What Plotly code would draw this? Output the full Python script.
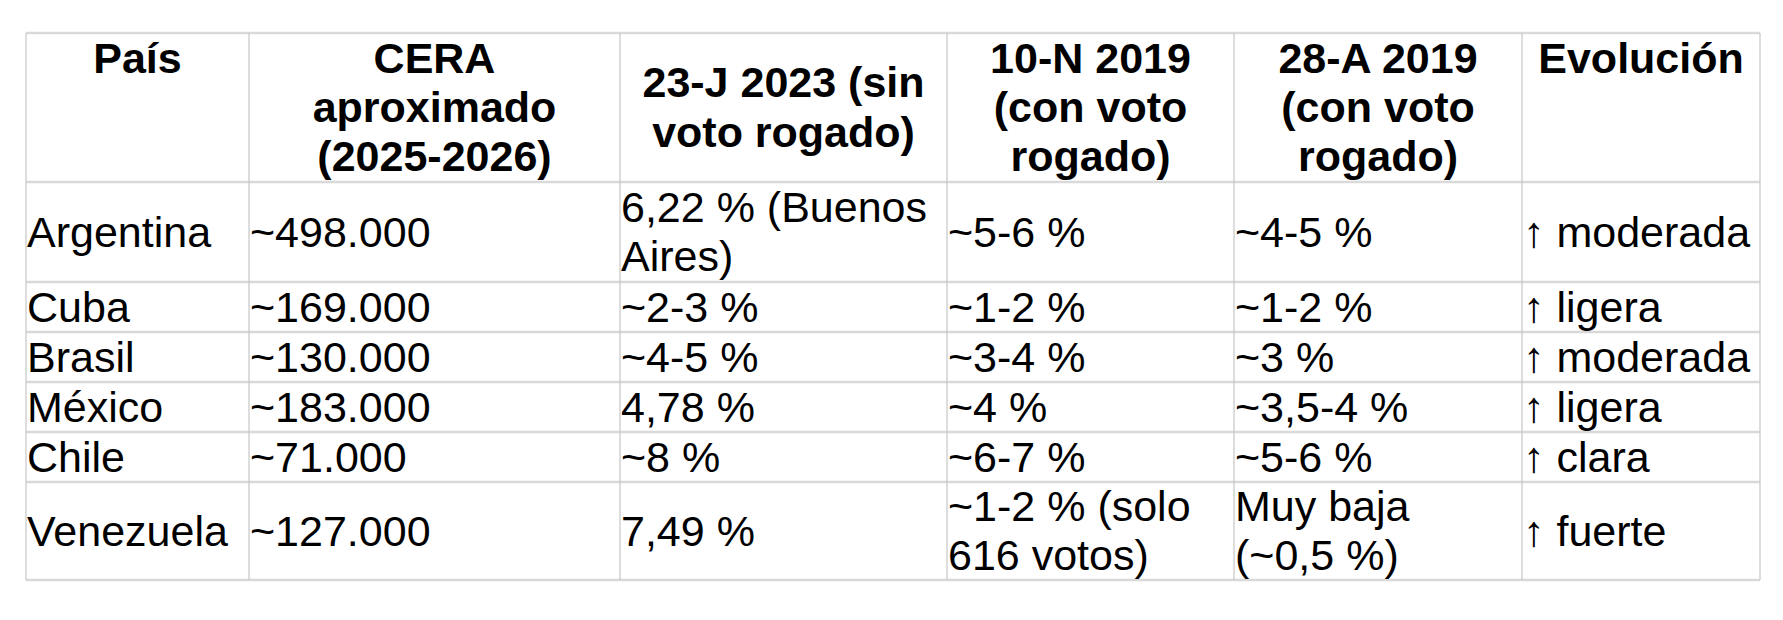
import plotly.graph_objects as go

#%% Table content
header = ["País",
          "CERA<br>aproximado<br>(2025-2026)",
          "23-J 2023 (sin<br>voto rogado)",
          "10-N 2019<br>(con voto<br>rogado)",
          "28-A 2019<br>(con voto<br>rogado)",
          "Evolución"]

paises = ["Argentina", "Cuba", "Brasil", "México", "Chile", "Venezuela"]
cera = ["~498.000", "~169.000", "~130.000", "~183.000", "~71.000", "~127.000"]
j23_2023 = ["6,22 % (Buenos<br>Aires)", "~2-3 %", "~4-5 %", "4,78 %", "~8 %", "7,49 %"]
n10_2019 = ["~5-6 %", "~1-2 %", "~3-4 %", "~4 %", "~6-7 %", "~1-2 % (solo<br>616 votos)"]
a28_2019 = ["~4-5 %", "~1-2 %", "~3 %", "~3,5-4 %", "~5-6 %", "Muy baja<br>(~0,5 %)"]
evolucion = ["↑ moderada", "↑ ligera", "↑ moderada", "↑ ligera", "↑ clara", "↑ fuerte"]

# header cells that sit at the top instead of the middle
header_top = ["País", "Evolución"]

#%% Grid geometry (pixels)
col_w = [223, 371, 327, 287, 288, 238]
row_h = [149, 100, 50, 50, 50, 50, 98]

FONT = "Liberation Sans, Arial, sans-serif"
BASE = 38      # drives line spacing (1.3 em)
GLYPH = 43     # real glyph size
NUDGE = 5      # pull text down a little so caps are centred
PAD = 1

x_edges = [0]
for w in col_w:
    x_edges.append(x_edges[-1] + w)
y_edges = [0]
for h in row_h:
    y_edges.append(y_edges[-1] + h)
W, H = x_edges[-1], y_edges[-1]


def fmt(s, bold=False):
    parts = []
    for line in s.split("<br>"):
        t = f"<span style='font-size:{GLYPH}px'>{line}</span>"
        parts.append(f"<b>{t}</b>" if bold else t)
    return "<br>".join(parts)


def n_lines(s):
    return s.count("<br>") + 1


#%% Header points
max_lines = max(n_lines(h) for h in header)
hx, hy, htxt = [], [], []
yc = (y_edges[0] + y_edges[1]) / 2 + NUDGE
for i, h in enumerate(header):
    hx.append((x_edges[i] + x_edges[i + 1]) / 2)
    if h in header_top:
        hy.append(yc - (max_lines - n_lines(h)) * 1.3 * BASE / 2)
    else:
        hy.append(yc)
    htxt.append(fmt(h, bold=True))

#%% Body points
columns = [paises, cera, j23_2023, n10_2019, a28_2019, evolucion]
bx, by, btxt = [], [], []
for c, col in enumerate(columns):
    for r, val in enumerate(col):
        bx.append(x_edges[c] + PAD)
        by.append((y_edges[r + 1] + y_edges[r + 2]) / 2 + NUDGE)
        btxt.append(fmt(val))

fig = go.Figure()
fig.add_trace(go.Scatter(x=hx, y=hy, text=htxt, mode="text",
                         textposition="middle center",
                         textfont=dict(family=FONT, size=BASE, color="black"),
                         hoverinfo="skip", showlegend=False, cliponaxis=False))
fig.add_trace(go.Scatter(x=bx, y=by, text=btxt, mode="text",
                         textposition="middle right",
                         textfont=dict(family=FONT, size=BASE, color="black"),
                         hoverinfo="skip", showlegend=False, cliponaxis=False))

#%% Grid lines
for y in y_edges:
    fig.add_shape(type="line", x0=0, x1=W, y0=y, y1=y, xref="x", yref="y",
                  line=dict(color="#d9d9d9", width=2.5), layer="below")
for x in x_edges:
    fig.add_shape(type="line", x0=x, x1=x, y0=0, y1=H, xref="x", yref="y",
                  line=dict(color="#c6c6c6", width=1.2), layer="below")

# page body keeps an 8px margin, so the figure is 16px smaller than the window
fig.update_layout(
    width=1767, height=604,
    margin=dict(l=14, r=11, t=21, b=28),
    paper_bgcolor="white", plot_bgcolor="white",
    xaxis=dict(range=[-4, W + 4], visible=False, fixedrange=True),
    yaxis=dict(range=[H + 4, -4], visible=False, fixedrange=True),
)

fig.write_html("out.html", config={"displayModeBar": False})
